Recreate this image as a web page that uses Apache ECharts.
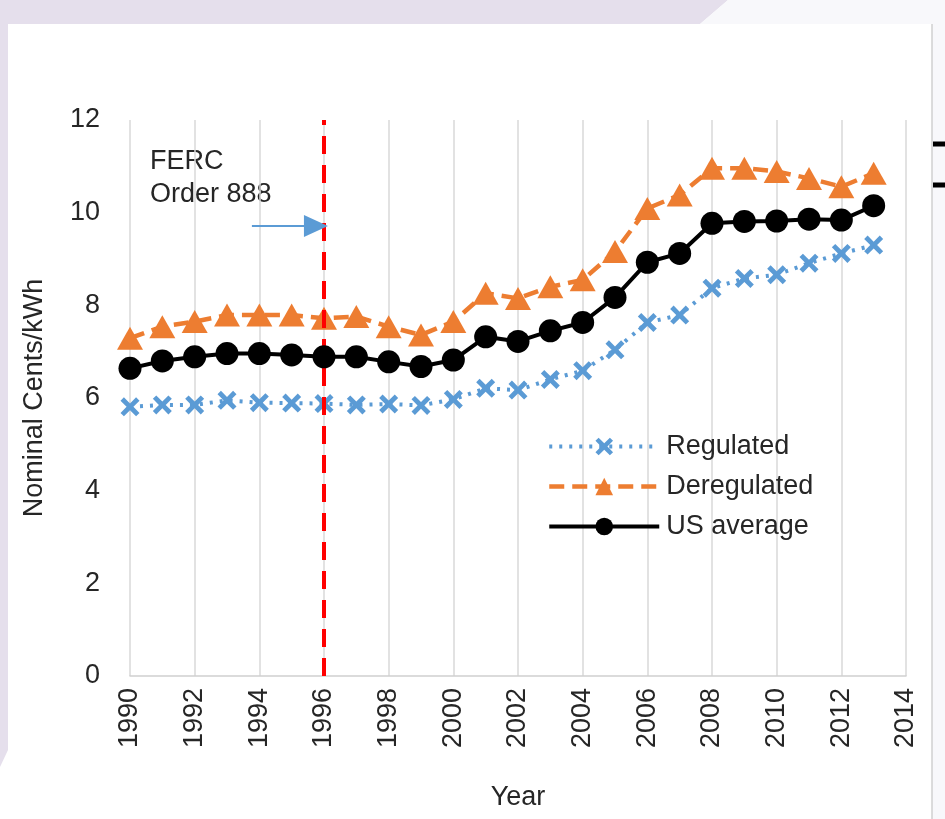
<!DOCTYPE html>
<html><head><meta charset="utf-8">
<script src="https://cdn.jsdelivr.net/npm/echarts@6/dist/echarts.min.js"></script>
<style>html,body{margin:0;padding:0;background:#fff}#c{width:945px;height:819px}</style>
</head><body><div id="c"></div>
<script>
const years = [1990,1991,1992,1993,1994,1995,1996,1997,1998,1999,2000,2001,2002,2003,2004,2005,2006,2007,2008,2009,2010,2011,2012,2013];
const regulated = [5.81,5.85,5.85,5.95,5.90,5.89,5.88,5.85,5.87,5.84,5.97,6.21,6.17,6.40,6.59,7.04,7.63,7.79,8.37,8.58,8.66,8.91,9.12,9.30];
const deregulated = [7.29,7.54,7.65,7.79,7.79,7.79,7.72,7.76,7.54,7.36,7.65,8.26,8.15,8.40,8.55,9.16,10.09,10.38,10.96,10.96,10.89,10.74,10.56,10.85];
const usAverage = [6.64,6.80,6.89,6.96,6.96,6.93,6.89,6.89,6.78,6.68,6.82,7.32,7.22,7.45,7.63,8.17,8.93,9.12,9.77,9.81,9.82,9.86,9.84,10.15];
const fercYear = 1996;
const arrowFrom = [1993.77, 9.71];
const arrowTo = [1995.75, 9.71];
const seriesNames = ['Regulated','Deregulated','US average'];

const pair = (arr) => years.map((y, i) => [y, arr[i]]);
const font = 'Liberation Sans, Arial, sans-serif';
const txt = '#262626';
const xPath = 'path://M0,1.8L1.8,0L5,3.2L8.2,0L10,1.8L6.8,5L10,8.2L8.2,10L5,6.8L1.8,10L0,8.2L3.2,5Z';

const chart = echarts.init(document.getElementById('c'), null, {renderer:'canvas'});
chart.setOption({
  animation: false,
  backgroundColor: '#ffffff',
  textStyle: {fontFamily: font},
  graphic: [
    {type:'polygon', z:-10, shape:{points:[[0,0],[728,0],[700,24],[8,24],[8,750],[0,767]]}, style:{fill:'#e5dfec'}},
    {type:'polygon', z:-10, shape:{points:[[728,0],[945,0],[945,24],[700,24]]}, style:{fill:'#f8f8fb'}},
    {type:'rect', z:-10, shape:{x:932,y:24,width:13,height:795}, style:{fill:'#f8f8fb'}},
    {type:'line', z:-9, shape:{x1:932,y1:24,x2:932,y2:819}, style:{stroke:'#d0d0d0', lineWidth:1.5}},
    {type:'line', z:-8, shape:{x1:933,y1:144,x2:945,y2:144}, style:{stroke:'#000', lineWidth:5}},
    {type:'line', z:-8, shape:{x1:933,y1:185,x2:945,y2:185}, style:{stroke:'#000', lineWidth:5}},
    {type:'text', left:150, top:145, style:{text:'FERC\nOrder 888', font:'27px ' + font, fill:txt, lineHeight:33}}
  ],
  grid: {left:130, right:39, top:120, bottom:143, containLabel:false},
  legend: {
    orient:'vertical', left:542, top:428, itemWidth:110, itemHeight:22, itemGap:13,
    data: seriesNames,
    lineStyle:{width:'inherit'},
    textStyle:{fontSize:27, color:txt, fontFamily:font, padding:[0,0,0,2]}
  },
  xAxis: {
    type:'value', min:1990, max:2014, interval:2,
    name:'Year', nameLocation:'middle', nameGap:108,
    nameTextStyle:{fontSize:27, color:txt, fontFamily:font},
    axisLine:{show:true, lineStyle:{color:'#d0d0d0', width:1.5}},
    axisTick:{show:false},
    splitLine:{show:true, lineStyle:{color:'#d9d9d9', width:1.5}},
    axisLabel:{rotate:90, fontSize:27, color:txt, margin:12, fontFamily:font, formatter:v=>String(v)}
  },
  yAxis: {
    type:'value', min:0, max:12, interval:2,
    name:'Nominal Cents/kWh', nameLocation:'middle', nameRotate:90, nameGap:82,
    nameTextStyle:{fontSize:27, color:txt, fontFamily:font},
    axisLine:{show:false}, axisTick:{show:false}, splitLine:{show:false},
    axisLabel:{fontSize:27, color:txt, margin:30, fontFamily:font}
  },
  series: [
    {name:'Regulated', type:'line', data:pair(regulated), symbol:xPath, symbolSize:19,
     lineStyle:{color:'#5b9bd5', width:4, type:[3,7]}, itemStyle:{color:'#5b9bd5'}, z:3},
    {name:'Deregulated', type:'line', data:pair(deregulated), symbol:'triangle', symbolSize:[26,23],
     lineStyle:{color:'#ed7d31', width:4.5, type:[15,8]}, itemStyle:{color:'#ed7d31'}, z:4},
    {name:'US average', type:'line', data:pair(usAverage), symbol:'circle', symbolSize:23,
     lineStyle:{color:'#000000', width:4}, itemStyle:{color:'#000000'}, z:5,
     markLine:{silent:true, symbol:['none','none'], label:{show:false},
       lineStyle:{color:'#ff0000', width:4, type:[18,11]},
       data:[[{coord:[fercYear,0]},{coord:[fercYear,12]}]]}},
    {name:'arrow', type:'line', data:[], markLine:{silent:true, symbol:['none','triangle'], symbolSize:[22,24], label:{show:false},
       lineStyle:{color:'#5b9bd5', width:1.8, type:'solid'},
       data:[[{coord:arrowFrom},{coord:arrowTo}]]}}
  ]
});
</script></body></html>
